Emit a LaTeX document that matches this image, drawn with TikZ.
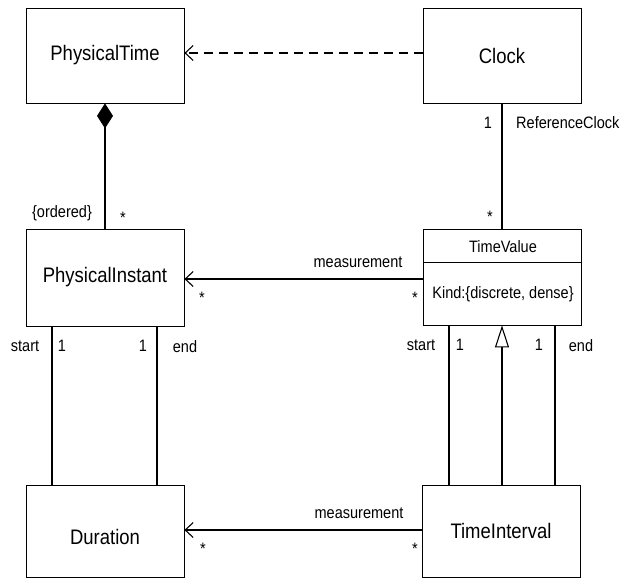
\documentclass[tikz,border=0pt]{standalone}
\usepackage{fontspec}
\setmainfont{Liberation Sans}[FakeStretch=0.88]
\usetikzlibrary{arrows.meta}
\begin{document}
\begin{tikzpicture}[x=1pt,y=-1pt,
  classbox/.style={draw=black,line width=0.8pt,minimum width=158pt,inner sep=0pt,
    font=\fontsize{21}{23}\selectfont},
  lbl/.style={inner sep=0pt,font=\fontsize{16.5}{18}\selectfont},
  mult/.style={inner sep=0pt,font=\fontsize{16.5}{18}\selectfont},
  assoc/.style={line width=1.1pt},
  navarrow/.style={assoc,-{Straight Barb[length=8pt,width=15pt,line width=1.1pt]}},
  deparrow/.style={line width=1.1pt,dash pattern=on 9pt off 6pt,
    -{Straight Barb[length=8pt,width=15pt,line width=1.1pt]}},
  compos/.style={assoc,{Diamond[length=25pt,width=16pt,fill=black]}-},
  generalize/.style={assoc,-{Triangle[open,length=22pt,width=14pt,line width=1.1pt,fill=white]}}
]
\useasboundingbox (0,0) rectangle (624,579);

% classes
\node[classbox,minimum height=95pt] (ptime) at (105,55.5) {PhysicalTime};
\node[classbox,minimum height=95pt] (clock) at (502,55.5) {Clock};
\node[classbox,minimum height=97pt] (pinst) at (105,277.5) {PhysicalInstant};
\node[classbox,minimum height=96pt] (tval) at (502.5,277) {};
\node[classbox,minimum height=92pt] (dur) at (105,531) {\raisebox{-13pt}[0pt][0pt]{Duration}};
\node[classbox,minimum height=92pt] (tint) at (501,531) {TimeInterval};

% TimeValue compartments
\coordinate (tvsplitL) at (tval.west |- 0,262);
\coordinate (tvsplitR) at (tval.east |- 0,262);
\draw[line width=0.8pt] (tvsplitL) -- (tvsplitR);
\node[lbl] (tvname) at (503,247) {TimeValue};
\node[lbl] (tvattr) at (503,294) {Kind:\{discrete, dense\}};

% dependency Clock -> PhysicalTime
\draw[deparrow] (clock.west |- 0,53) -- (ptime.east |- 0,53);

% composition PhysicalTime <>- PhysicalInstant
\draw[compos] (ptime.south) -- (pinst.north);
\node[lbl] (ordered) at (62,213) {\{ordered\}};
\node[mult] (m1) at (123,218) {*};

% Clock -- TimeValue
\draw[assoc] (clock.south) -- (tval.north -| clock.south);
\node[mult] (m2) at (488,123) {1};
\node[lbl,anchor=west] (refclk) at (516,123) {ReferenceClock};
\node[mult] (m3) at (490,217) {*};

% measurement TimeValue -> PhysicalInstant
\draw[navarrow] (tval.west |- 0,279) -- (pinst.east |- 0,279);
\node[lbl] (meas1) at (358,262) {measurement};
\node[mult] (m4) at (202,298) {*};
\node[mult] (m5) at (415,298) {*};

% start / end PhysicalInstant -- Duration
\draw[assoc] (pinst.south -| 52,0) -- (dur.north -| 52,0);
\draw[assoc] (pinst.south -| 157,0) -- (dur.north -| 157,0);
\node[lbl] (pstart) at (25,346) {start};
\node[mult] (m6) at (62,346) {1};
\node[mult] (m7) at (143,346) {1};
\node[lbl] (pend) at (185,347) {end};

% start / end TimeValue -- TimeInterval, generalization
\draw[assoc] (tval.south -| 449,0) -- (tint.north -| 449,0);
\draw[assoc] (tval.south -| 555,0) -- (tint.north -| 555,0);
\draw[generalize] (tint.north -| 502,0) -- (tval.south -| 502,0);
\node[lbl] (tstart) at (421,345) {start};
\node[mult] (m8) at (460,345) {1};
\node[mult] (m9) at (539,345) {1};
\node[lbl] (tend) at (581,346) {end};

% measurement TimeInterval -> Duration
\draw[navarrow] (tint.west |- 0,530) -- (dur.east |- 0,530);
\node[lbl] (meas2) at (359,513) {measurement};
\node[mult] (m10) at (203,549) {*};
\node[mult] (m11) at (415,549) {*};
\end{tikzpicture}
\end{document}
